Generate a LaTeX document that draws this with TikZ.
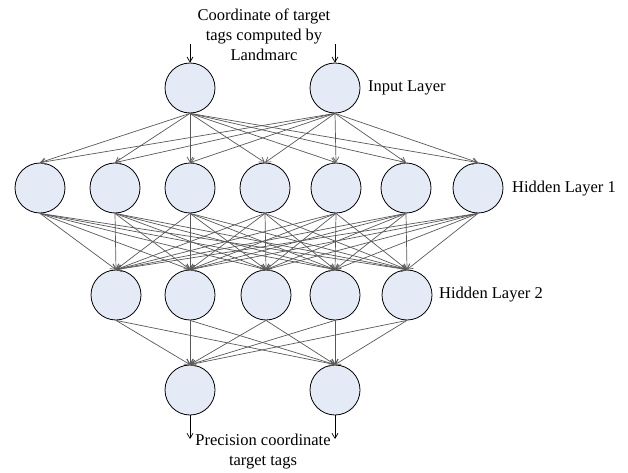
\documentclass[tikz,border=0pt]{standalone}
\usepackage{fontspec}
\setmainfont{Liberation Serif}
\usetikzlibrary{arrows.meta}
\definecolor{nodefill}{HTML}{E4EBF6}
\definecolor{linkgray}{HTML}{585858}
\tikzset{
  neuron/.style={circle, draw=black, line width=0.8pt, fill=nodefill, minimum size=50pt, inner sep=0pt},
  link/.style={draw=linkgray, line width=0.7pt, -{Straight Barb[length=5pt,width=6pt]}},
  iolink/.style={draw=black, line width=0.7pt, -{Straight Barb[length=5pt,width=6pt]}},
  lbl/.style={font=\fontsize{16.5}{20}\selectfont, inner sep=0pt},
}
\begin{document}
\begin{tikzpicture}[x=1pt,y=-1pt]
\useasboundingbox (0,0) rectangle (628,473);
% input layer
\node[neuron] (i1) at (190,88) {};
\node[neuron] (i2) at (335,88) {};
% hidden layer 1
\foreach \x [count=\k] in {40,115,190,265,336,406,478}
  \node[neuron] (h\k) at (\x,188) {};
% hidden layer 2
\foreach \x [count=\k] in {116,190,266,335,407}
  \node[neuron] (g\k) at (\x,295) {};
% output layer
\node[neuron] (o1) at (190,390) {};
\node[neuron] (o2) at (335,390) {};
% connections
\foreach \a in {1,2}
  \foreach \b in {1,...,7}
    \draw[link] (i\a.south) -- (h\b.north);
\foreach \a in {1,...,7}
  \foreach \b in {1,...,5}
    \draw[link] (h\a.south) -- (g\b.north);
\foreach \a in {1,...,5}
  \foreach \b in {1,2}
    \draw[link] (g\a.south) -- (o\b.north);
% input / output arrows
\coordinate (in1) at (190,44);
\coordinate (in2) at (335,44);
\coordinate (out1) at (190,439);
\coordinate (out2) at (335,439);
\draw[iolink] (in1) -- (i1.north);
\draw[iolink] (in2) -- (i2.north);
\draw[iolink] (o1.south) -- (out1);
\draw[iolink] (o2.south) -- (out2);
% labels
\node[lbl, align=center] (tin) at (264,35) {Coordinate of target\\tags computed by\\Landmarc};
\node[lbl, anchor=west] (lin) at (368,88) {Input Layer};
\node[lbl, anchor=west] (lh1) at (512,189) {Hidden Layer 1};
\node[lbl, anchor=west] (lh2) at (439,295) {Hidden Layer 2};
\node[lbl, align=center] (tout) at (263,452) {Precision coordinate\\target tags};
\end{tikzpicture}
\end{document}
